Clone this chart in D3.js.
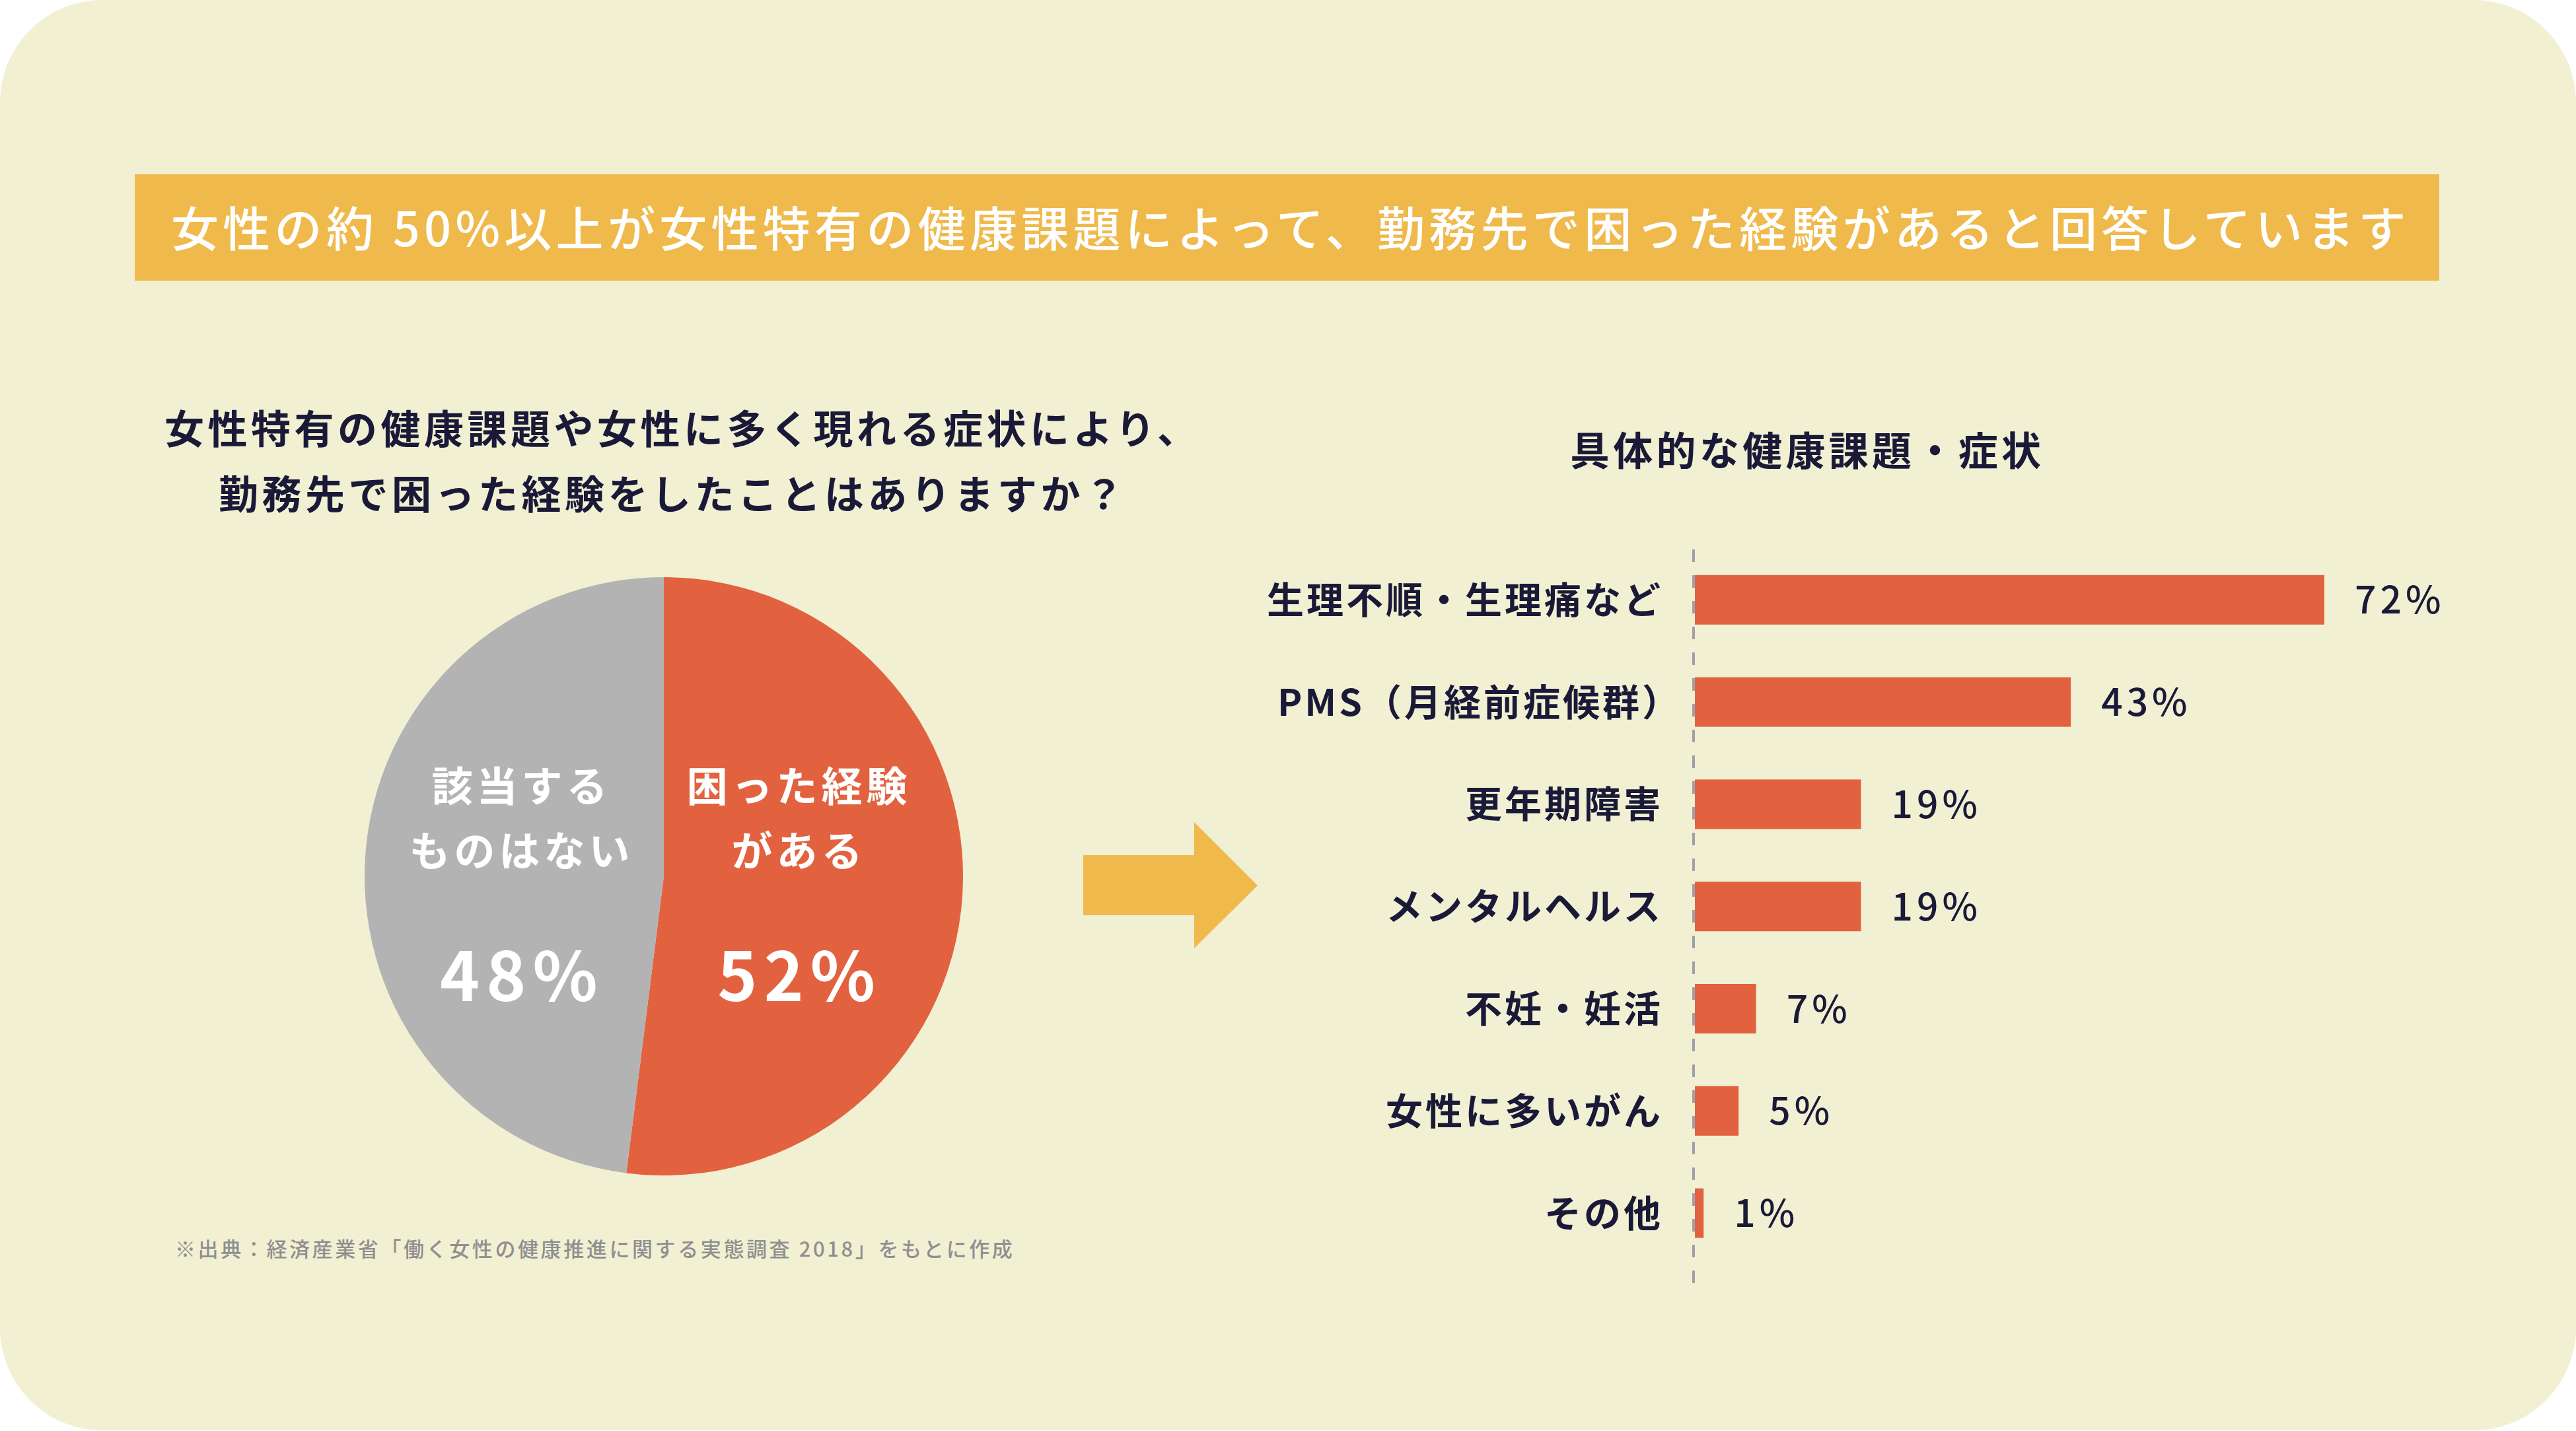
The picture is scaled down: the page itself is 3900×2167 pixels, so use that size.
<!DOCTYPE html>
<html lang="ja">
<head>
<meta charset="utf-8">
<script src="https://cdn.jsdelivr.net/npm/d3@7"></script>
<style>
  html, body { margin: 0; padding: 0; background: #ffffff; }
  svg { display: block; }
  text { font-family: "Noto Sans CJK JP", "Noto Sans", sans-serif; }
</style>
</head>
<body>
<svg id="chart" width="3900" height="2167"></svg>
<script>
// ---------- data ----------
const headline = "女性の約 50%以上が女性特有の健康課題によって、勤務先で困った経験があると回答しています";
const questionLines = ["女性特有の健康課題や女性に多く現れる症状により、", "勤務先で困った経験をしたことはありますか？"];
const pieCategories = ["困った経験がある", "該当するものはない"];
const pieLabelLines = [["困った経験", "がある"], ["該当する", "ものはない"]];
const pieValues = [52, 48];
const barTitle = "具体的な健康課題・症状";
const barCategories = ["生理不順・生理痛など", "PMS（月経前症候群）", "更年期障害", "メンタルヘルス", "不妊・妊活", "女性に多いがん", "その他"];
const barValues = [72, 43, 19, 19, 7, 5, 1];
const sourceNote = "※出典：経済産業省「働く女性の健康推進に関する実態調査 2018」をもとに作成";

// ---------- style ----------
const C = {
  bg: "#F1F0D3", banner: "#EFB94C", red: "#E26240", gray: "#B3B3B3",
  ink: "#1A1A38", dash: "#A0A0A8", note: "#8F8F8F"
};

const svg = d3.select("#chart");

// card
svg.append("rect").attr("x", 0).attr("y", 0).attr("width", 3900).attr("height", 2166)
  .attr("rx", 155).attr("ry", 155).attr("fill", C.bg);

// headline banner
svg.append("rect").attr("x", 204).attr("y", 264).attr("width", 3489).attr("height", 161).attr("fill", C.banner);
svg.append("text").attr("x", 259).attr("y", 341)
  .attr("dominant-baseline", "central")
  .attr("font-size", 72).attr("font-weight", 500).attr("letter-spacing", 6.3)
  .attr("fill", "#ffffff").text(headline);

// question
svg.append("g").selectAll("text").data(questionLines).join("text")
  .attr("x", (d, i) => i === 0 ? 249 : 331)
  .attr("y", (d, i) => 645 + i * 99)
  .attr("dominant-baseline", "central")
  .attr("font-size", 60).attr("font-weight", 700).attr("letter-spacing", 5.5)
  .attr("fill", C.ink).text(d => d);

// ---------- pie ----------
const cx = 1005, cy = 1327, R = 453;
const pie = d3.pie().sort(null).value(d => d)(pieValues);
const arc = d3.arc().innerRadius(0).outerRadius(R);
const labelArc = d3.arc().innerRadius(205).outerRadius(205);
const gPie = svg.append("g").attr("transform", `translate(${cx},${cy})`);
gPie.selectAll("path").data(pie).join("path")
  .attr("d", arc).attr("fill", (d, i) => i === 0 ? C.red : C.gray);

const pl = gPie.selectAll("g.lbl").data(pie).join("g").attr("class", "lbl")
  .attr("transform", (d, i) => `translate(${labelArc.centroid(d)[0] + (i === 0 ? -3 : -14)},0)`);
pl.each(function(d, i) {
  const g = d3.select(this);
  pieLabelLines[i].forEach((line, j) => {
    g.append("text").attr("x", 3).attr("y", -140 + j * 98)
      .attr("text-anchor", "middle").attr("dominant-baseline", "central")
      .attr("font-size", 62).attr("font-weight", 700).attr("letter-spacing", 6)
      .attr("fill", "#ffffff").text(line);
  });
  g.append("text").attr("x", 4).attr("y", 144)
    .attr("text-anchor", "middle").attr("dominant-baseline", "central")
    .attr("font-size", 102).attr("font-weight", 700).attr("letter-spacing", 10)
    .attr("fill", "#ffffff").text(pieValues[i] + "%");
});

// arrow
svg.append("path")
  .attr("d", "M1640,1295 L1808,1295 L1808,1245 L1904,1341 L1808,1436 L1808,1386 L1640,1386 Z")
  .attr("fill", C.banner);

// ---------- bars ----------
svg.append("text").attr("x", 2377).attr("y", 678)
  .attr("dominant-baseline", "central")
  .attr("font-size", 60).attr("font-weight", 700).attr("letter-spacing", 5.3)
  .attr("fill", C.ink).text(barTitle);

const x = d3.scaleLinear().domain([0, 72]).range([2566, 3519]);
const y = d3.scaleBand().domain(barCategories).range([791, 1954.4]).paddingInner(0.5155).paddingOuter(0.5155);

svg.append("line").attr("x1", 2564).attr("x2", 2564).attr("y1", 832).attr("y2", 1944)
  .attr("stroke", C.dash).attr("stroke-width", 4).attr("stroke-dasharray", "19 20");

svg.append("g").selectAll("rect").data(barValues).join("rect")
  .attr("x", x(0)).attr("y", (d, i) => y(barCategories[i]))
  .attr("width", d => x(d) - x(0)).attr("height", y.bandwidth())
  .attr("fill", C.red);

svg.append("g").selectAll("text").data(barCategories).join("text")
  .attr("x", d => d.endsWith("）") ? 2546 : 2518)
  .attr("y", d => y(d) + y.bandwidth() / 2 - 4)
  .attr("text-anchor", "end").attr("dominant-baseline", "central")
  .attr("font-size", 56).attr("font-weight", 700).attr("letter-spacing", 4)
  .attr("fill", C.ink).text(d => d);

svg.append("g").selectAll("text").data(barValues).join("text")
  .attr("x", d => x(d) + 46).attr("y", (d, i) => y(barCategories[i]) + y.bandwidth() / 2 - 4)
  .attr("dominant-baseline", "central")
  .attr("font-size", 57).attr("font-weight", 500).attr("letter-spacing", 6)
  .attr("fill", C.ink).text(d => d + "%");

// source
svg.append("text").attr("x", 265).attr("y", 1889)
  .attr("dominant-baseline", "central")
  .attr("font-size", 31).attr("font-weight", 500).attr("letter-spacing", 3.6)
  .attr("fill", C.note).text(sourceNote);
</script>
</body>
</html>
